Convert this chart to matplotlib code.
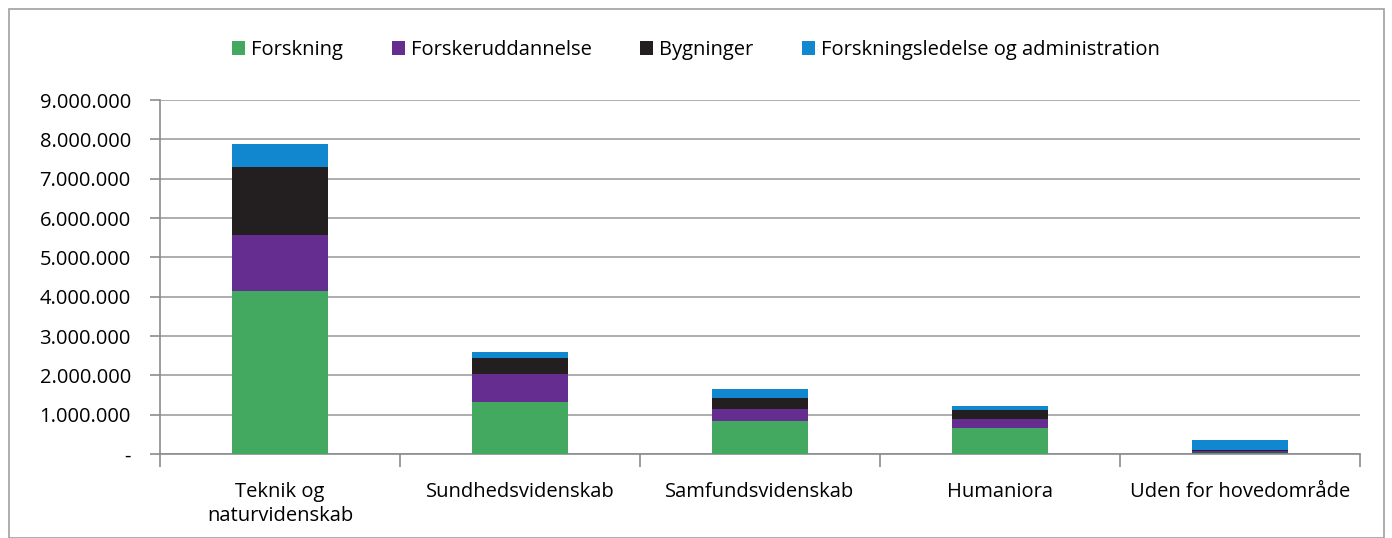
import matplotlib.pyplot as plt
import numpy as np
from matplotlib.patches import Rectangle
from matplotlib.ticker import FuncFormatter

plt.rcParams['font.family'] = ['Open Sans', 'DejaVu Sans']

# Data (in DKK 1000)
categories = ['Teknik og\nnaturvidenskab', 'Sundhedsvidenskab', 'Samfundsvidenskab',
              'Humaniora', 'Uden for hovedområde']
forskning = [4150000, 1330000, 830000, 660000, 20000]
forskeruddannelse = [1430000, 700000, 320000, 240000, 50000]
bygninger = [1710000, 400000, 270000, 230000, 30000]
administration = [600000, 160000, 220000, 100000, 260000]

series_names = ['Forskning', 'Forskeruddannelse', 'Bygninger',
                'Forskningsledelse og administration']
colors = ['#43A860', '#662D91', '#231F20', '#1187CF']

fs = 14.5

fig = plt.figure(figsize=(13.92, 5.38), dpi=100)
ax = fig.add_axes([160 / 1392, 1 - 454 / 538, 1200 / 1392, 354 / 538])

x = np.arange(len(categories))
bottom = np.zeros(len(categories))
for vals, name, col in zip([forskning, forskeruddannelse, bygninger, administration],
                           series_names, colors):
    ax.bar(x, vals, bottom=bottom, width=0.4, color=col, label=name, zorder=3)
    bottom += np.array(vals)

ax.set_xlim(-0.5, len(categories) - 0.5)
ax.set_ylim(0, 9000000)
ax.set_yticks(np.arange(0, 9000001, 1000000))

def fmt(v, pos):
    if v == 0:
        return '-'
    return f'{int(v):,}'.replace(',', '.')

ax.yaxis.set_major_formatter(FuncFormatter(fmt))
ax.grid(axis='y', color='#A0A0A0', linewidth=1.2, zorder=0)

for s in ['top', 'right']:
    ax.spines[s].set_visible(False)
for s in ['left', 'bottom']:
    ax.spines[s].set_color('#8C8C8C')
    ax.spines[s].set_linewidth(1.2)

ax.set_xticks(x)
ax.set_xticklabels(categories, fontsize=fs, linespacing=1.25)
ax.set_xticks(np.arange(-0.5, len(categories), 1), minor=True)
ax.tick_params(axis='x', which='major', length=0, pad=20)
ax.tick_params(axis='x', which='minor', length=9, color='#8C8C8C', width=1.2)
ax.tick_params(axis='y', length=7, color='#8C8C8C', width=1.2, labelsize=fs, pad=14)

handles, labels = ax.get_legend_handles_labels()
fig.legend(handles, labels, loc='center', bbox_to_anchor=(0.5, 1 - 50 / 538), ncol=4,
           frameon=False, fontsize=fs, handlelength=0.65, handleheight=0.65,
           handletextpad=0.3, columnspacing=2.4)

fig.patches.append(Rectangle((9 / 1392, 0), 1375 / 1392, 529 / 538, transform=fig.transFigure,
                             fill=False, edgecolor='#A0A0A0', linewidth=1.2))

fig.savefig('out.png', dpi=100)
